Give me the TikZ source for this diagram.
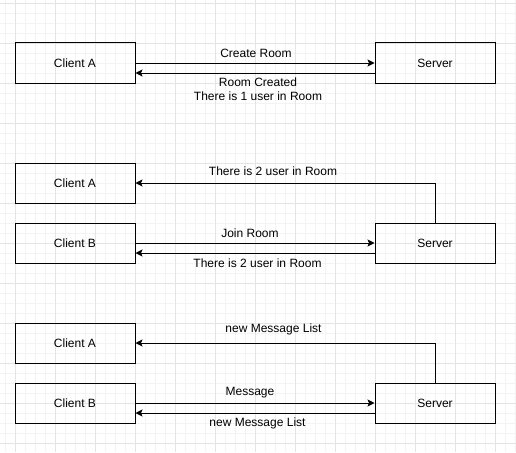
\documentclass[tikz,border=0pt]{standalone}
\usepackage{fontspec}
\setmainfont{Liberation Sans}
\usetikzlibrary{arrows.meta}
\definecolor{gmajor}{HTML}{E4E4E4}
\definecolor{gminor}{HTML}{F3F3F3}
\begin{document}
\begin{tikzpicture}[x=1pt,y=-1pt,
  box/.style={draw=black,line width=1pt,minimum width=120pt,minimum height=40pt,inner sep=0pt,font=\fontsize{12}{14}\selectfont},
  lbl/.style={inner sep=0pt,font=\fontsize{12}{14}\selectfont,align=center},
  arr/.style={draw=black,line width=1pt,-{Stealth[length=7pt,width=7pt,inset=1.5pt]}}]
\useasboundingbox (0,0) rectangle (516,452);
\fill[white] (0,0) rectangle (516,452);
% grid
\foreach \x in {5,15,...,515} \draw[gminor,line width=0.8pt] (\x,0) -- (\x,452);
\foreach \y in {3,13,...,451} \draw[gminor,line width=0.8pt] (0,\y) -- (516,\y);
\foreach \x in {15,55,...,495} \draw[gmajor,line width=0.8pt] (\x,0) -- (\x,452);
\foreach \y in {3,43,...,443} \draw[gmajor,line width=0.8pt] (0,\y) -- (516,\y);
% section 1
\node[box] (A1) at (75,63) {Client A};
\node[box] (S1) at (435,63) {Server};
\draw[arr] (A1.east) -- (S1.west);
\draw[arr] ([yshift=-10pt]S1.west) -- ([yshift=-10pt]A1.east);
\node[lbl] (L1) at (256,53) {Create Room};
\node[lbl] (L2) at (258,89) {Room Created\\There is 1 user in Room};
% section 2
\node[box] (A2) at (75,183) {Client A};
\node[box] (B2) at (75,243) {Client B};
\node[box] (S2) at (435,243) {Server};
\draw[arr] (S2.north) |- (A2.east);
\draw[arr] (B2.east) -- (S2.west);
\draw[arr] ([yshift=-10pt]S2.west) -- ([yshift=-10pt]B2.east);
\node[lbl] (L3) at (273,171) {There is 2 user in Room};
\node[lbl] (L4) at (250,233) {Join Room};
\node[lbl] (L5) at (257.5,263) {There is 2 user in Room};
% section 3
\node[box] (A3) at (75,343) {Client A};
\node[box] (B3) at (75,403) {Client B};
\node[box] (S3) at (435,403) {Server};
\draw[arr] (S3.north) |- (A3.east);
\draw[arr] (B3.east) -- (S3.west);
\draw[arr] ([yshift=-10pt]S3.west) -- ([yshift=-10pt]B3.east);
\node[lbl] (L6) at (273.5,329) {new Message List};
\node[lbl] (L7) at (250,393) {Message};
\node[lbl] (L8) at (257.5,423) {new Message List};
\end{tikzpicture}
\end{document}
